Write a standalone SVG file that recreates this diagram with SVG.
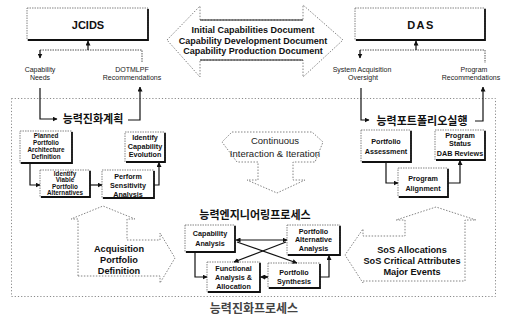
<svg xmlns="http://www.w3.org/2000/svg" width="526" height="324" viewBox="0 0 526 324">
  <style>
    .bg { fill: #ffffff; }
    .frame { fill: none; stroke: #8a8a8a; stroke-width: 1; stroke-dasharray: 1.2 2; }
    .box { fill: #ffffff; stroke: #777; stroke-width: 0.9; stroke-dasharray: 1.5 1; }
    .shade { fill: none; stroke: #111; stroke-width: 1.8; }
    .big { fill: #ffffff; stroke: #777; stroke-width: 0.9; stroke-dasharray: 1.5 1.5; }
    .edge { fill: none; stroke: #222; stroke-width: 1.2; }
    .wire { fill: none; stroke: #111; stroke-width: 1.2; }
    .dot { fill: none; stroke: #555; stroke-width: 1; stroke-dasharray: 1.5 1; }
    text { font-family: "Liberation Sans", Arial, sans-serif; fill: #111; text-anchor: middle; }
    .title { font-size: 11px; font-weight: bold; }
    .lbl { font-size: 7px; fill: #1a1a1a; }
    .node { font-size: 7.2px; font-weight: bold; }
    .node4 { font-size: 6.3px; font-weight: bold; }
    .doc { font-size: 9px; font-weight: bold; }
    .arrowtxt { font-size: 9.2px; font-weight: bold; }
    .loop { font-size: 9.5px; fill: #222; }
    .kr { font-family: "Noto Sans CJK KR", "Noto Sans", sans-serif; font-size: 11px; font-weight: bold; }
    .krfoot { font-family: "Noto Sans CJK KR", "Noto Sans", sans-serif; font-size: 12px; font-weight: bold; fill: #444; }
  </style>
  <defs>
    <marker id="ah" viewBox="0 0 10 10" refX="9" refY="5" markerWidth="5" markerHeight="5" markerUnits="userSpaceOnUse" orient="auto-start-reverse">
      <path d="M0,0 L10,5 L0,10 z" fill="#111"/>
    </marker>
  </defs>

  <rect class="bg" x="0" y="0" width="526" height="324"/>

  <!-- outer process frame -->
  <rect class="frame" x="11.5" y="98.5" width="484" height="198"/>

  <!-- document exchange double arrow -->
  <g id="doc-exchange">
    <polygon class="big" points="167,40 200,6 200,20 303,20 303,5 343,40 303,77 303,60 200,60 200,77"/>
    <path class="edge" d="M200,20 H303 M200,60 H303"/>
    <text class="doc" x="253" y="33">Initial Capabilities  Document</text>
    <text class="doc" x="253" y="43.5">Capability Development Document</text>
    <text class="doc" x="253" y="54">Capability Production Document</text>
  </g>

  <!-- continuous interaction arrow -->
  <g id="continuous">
    <polygon class="big" points="232,132 312,132 323,142 315,162 293,162 293,180 305,180 277,193 247,180 258,180 258,162 237,162 222,142"/>
    <text class="loop" x="275" y="144">Continuous</text>
    <text class="loop" x="275" y="156.5">Interaction &amp; Iteration</text>
  </g>

  <!-- acquisition portfolio definition bent arrow -->
  <g id="acq-def">
    <polygon class="big" points="78,276 78,219 71,219 103,206 135,219 127,219 127,240 160,240 160,233 175,258 160,283 160,276"/>
    <text class="arrowtxt" x="119" y="251.5">Acquisition</text>
    <text class="arrowtxt" x="119" y="262.5">Portfolio</text>
    <text class="arrowtxt" x="119" y="274">Definition</text>
  </g>

  <!-- SoS allocations bent arrow -->
  <g id="sos-alloc">
    <polygon class="big" points="465,281 465,220 476,220 436,207 396,220 405,220 405,236 363,236 363,229 345,255 363,283 363,281"/>
    <text class="arrowtxt" x="412" y="253.3">SoS Allocations</text>
    <text class="arrowtxt" x="412" y="264.3">SoS Critical Attributes</text>
    <text class="arrowtxt" x="412" y="274.8">Major Events</text>
  </g>

  <!-- top level boxes -->
  <g id="jcids">
    <rect class="box" x="27" y="8" width="121" height="32"/>
    <path class="shade" d="M148,9 V40 H28"/>
    <text class="title" x="88" y="29">JCIDS</text>
  </g>
  <g id="das">
    <rect class="box" x="355" y="8" width="130" height="32"/>
    <path class="shade" d="M485,9 V40 H356"/>
    <text class="title" x="421" y="29" letter-spacing="1.5">DAS</text>
  </g>

  <!-- flow labels -->
  <g id="labels">
    <text class="lbl" x="40" y="72">Capability</text>
    <text class="lbl" x="40" y="80">Needs</text>
    <text class="lbl" x="132" y="72">DOTMLPF</text>
    <text class="lbl" x="132" y="80">Recommendations</text>
    <text class="lbl" x="362" y="72">System Acquisition</text>
    <text class="lbl" x="363" y="80">Oversight</text>
    <text class="lbl" x="474" y="72">Program</text>
    <text class="lbl" x="471" y="80">Recommendations</text>
  </g>

  <!-- section headings -->
  <text class="kr" x="93" y="122.5">능력진화계획</text>
  <text class="kr" x="422" y="124.5">능력포트폴리오실행</text>
  <text class="kr" x="255" y="219">능력엔지니어링프로세스</text>
  <text class="krfoot" x="254" y="313">능력진화프로세스</text>

  <!-- evolution planning nodes -->
  <g id="planned-arch">
    <rect class="box" x="20" y="131" width="52" height="32"/>
    <path class="shade" d="M72,132 V163 H21"/>
    <text class="node4" x="46" y="137.5">Planned</text>
    <text class="node4" x="46" y="144.5">Portfolio</text>
    <text class="node4" x="46" y="151.5">Architecture</text>
    <text class="node4" x="46" y="158.5">Definition</text>
  </g>
  <g id="identify-evolution">
    <rect class="box" x="125" y="132" width="40" height="30"/>
    <path class="shade" d="M165,133 V162 H126"/>
    <text class="node" x="145" y="140">Identify</text>
    <text class="node" x="145" y="148.5">Capability</text>
    <text class="node" x="145" y="157">Evolution</text>
  </g>
  <g id="identify-alternatives">
    <rect class="box" x="40" y="170" width="50" height="27"/>
    <path class="shade" d="M90,171 V197 H41"/>
    <text class="node4" x="65" y="175.8">Identify</text>
    <text class="node4" x="65" y="182.2">Viable</text>
    <text class="node4" x="65" y="188.6">Portfolio</text>
    <text class="node4" x="65" y="195">Alternatives</text>
  </g>
  <g id="sensitivity">
    <rect class="box" x="102" y="170" width="52" height="28"/>
    <path class="shade" d="M154,171 V198 H103"/>
    <text class="node" x="128" y="178.5">Perform</text>
    <text class="node" x="128" y="187.5">Sensitivity</text>
    <text class="node" x="128" y="196.5">Analysis</text>
  </g>

  <!-- portfolio execution nodes -->
  <g id="assessment">
    <rect class="box" x="361" y="130" width="50" height="32"/>
    <path class="shade" d="M411,131 V162 H362"/>
    <text class="node" x="386" y="144">Portfolio</text>
    <text class="node" x="386" y="154">Assessment</text>
  </g>
  <g id="status-reviews">
    <rect class="box" x="435" y="130" width="50" height="30"/>
    <path class="shade" d="M485,131 V160 H436"/>
    <text class="node" x="460" y="137.5">Program</text>
    <text class="node" x="460" y="145.5">Status</text>
    <text class="node" x="460" y="155.5">DAB Reviews</text>
  </g>
  <g id="alignment">
    <rect class="box" x="398" y="168" width="50" height="29"/>
    <path class="shade" d="M448,169 V197 H399"/>
    <text class="node" x="423" y="180.5">Program</text>
    <text class="node" x="423" y="190.5">Alignment</text>
  </g>

  <!-- engineering process nodes -->
  <g id="cap-analysis">
    <rect class="box" x="185" y="225" width="50" height="27"/>
    <path class="shade" d="M235,226 V252 H186"/>
    <text class="node" x="210" y="235.5">Capability</text>
    <text class="node" x="210" y="245.5">Analysis</text>
  </g>
  <g id="alt-analysis">
    <rect class="box" x="287" y="225" width="53" height="30"/>
    <path class="shade" d="M340,226 V255 H288"/>
    <text class="node" x="313.5" y="233.5">Portfolio</text>
    <text class="node" x="313.5" y="242">Alternative</text>
    <text class="node" x="313.5" y="250.5">Analysis</text>
  </g>
  <g id="functional">
    <rect class="box" x="207" y="262" width="53" height="30"/>
    <path class="shade" d="M260,263 V292 H208"/>
    <text class="node" x="233.5" y="270.5">Functional</text>
    <text class="node" x="233.5" y="279.5">Analysis &amp;</text>
    <text class="node" x="233.5" y="288.5">Allocation</text>
  </g>
  <g id="synthesis">
    <rect class="box" x="268" y="263" width="52" height="25"/>
    <path class="shade" d="M320,264 V288 H269"/>
    <text class="node" x="294" y="274.5">Portfolio</text>
    <text class="node" x="294" y="283.5">Synthesis</text>
  </g>

  <!-- connectors -->
  <g id="connectors">
    <path class="dot" d="M40,50 H142 V63"/>
    <path class="wire" d="M88,50 V41" marker-end="url(#ah)"/>
    <path class="wire" d="M40,50 V58" marker-end="url(#ah)"/>
    <path class="wire" d="M40,88 V119 H57" marker-end="url(#ah)"/>
    <path class="wire" d="M128,120 H140 V87" marker-end="url(#ah)"/>

    <path class="dot" d="M360,50 H485 V63"/>
    <path class="wire" d="M416,50 V41" marker-end="url(#ah)"/>
    <path class="wire" d="M360,50 V58" marker-end="url(#ah)"/>
    <path class="wire" d="M361,88 V120 H369" marker-end="url(#ah)"/>
    <path class="wire" d="M475,121 H483 V87" marker-end="url(#ah)"/>

    <path class="wire" d="M30,163 V185 H40" marker-end="url(#ah)"/>
    <path class="wire" d="M90,185 H102" marker-end="url(#ah)"/>
    <path class="wire" d="M154,185 H159 V162.5" marker-end="url(#ah)"/>

    <path class="wire" d="M386,162 V183 H398" marker-end="url(#ah)"/>
    <path class="wire" d="M448,183 H460 V160.5" marker-end="url(#ah)"/>

    <path class="wire" d="M236,240 H287" marker-start="url(#ah)" marker-end="url(#ah)"/>
    <path class="wire" d="M237,242 L297,263" marker-end="url(#ah)"/>
    <path class="wire" d="M286,242 L234,262" marker-end="url(#ah)"/>
    <path class="wire" d="M195,252 V277 H207" marker-end="url(#ah)"/>
    <path class="wire" d="M260.5,277 H268" marker-start="url(#ah)" marker-end="url(#ah)"/>
    <path class="wire" d="M320,277 H329 V255.5" marker-end="url(#ah)"/>
  </g>
</svg>
